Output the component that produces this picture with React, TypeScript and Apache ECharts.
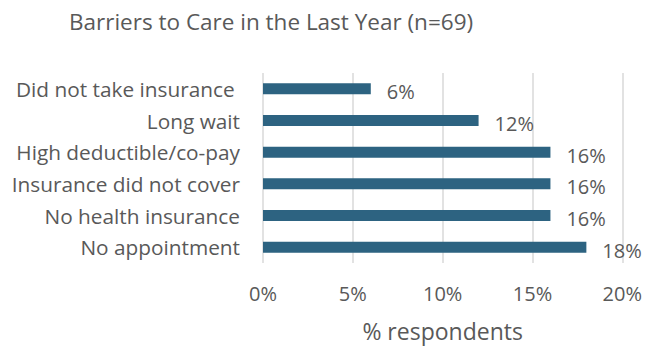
import React, { useEffect, useRef } from "react";
import * as echarts from "echarts";

const categories = [
  "No appointment",
  "No health insurance",
  "Insurance did not cover",
  "High deductible/co-pay",
  "Long wait",
  "Did not take insurance ",
];
const values = [18, 16, 16, 16, 12, 6];
const xTicks = [0, 5, 10, 15, 20];

const FONT = "'Open Sans', 'Noto Sans', sans-serif";
const TEXT = "#595959";

export default function App() {
  const ref = useRef<HTMLDivElement>(null);

  useEffect(() => {
    if (!ref.current) return;
    const chart = echarts.init(ref.current, null, { renderer: "svg" });
    chart.setOption({
      animation: false,
      backgroundColor: "#ffffff",
      title: {
        text: "Barriers to Care in the Last Year (n=69)",
        left: 64,
        top: 5,
        textStyle: { fontFamily: FONT, fontSize: 22.5, fontWeight: "normal", color: TEXT },
      },
      grid: { left: 263, right: 22, top: 73, bottom: 85, containLabel: false },
      xAxis: {
        type: "value",
        min: xTicks[0],
        max: xTicks[xTicks.length - 1],
        interval: 5,
        name: "% respondents",
        nameLocation: "middle",
        nameGap: 56,
        nameTextStyle: { fontFamily: FONT, fontSize: 23, color: TEXT },
        axisLine: { show: false },
        axisTick: { show: false },
        axisLabel: {
          formatter: (v: number) => `${v}%`,
          fontFamily: FONT,
          fontSize: 20,
          color: TEXT,
          margin: 20,
        },
        splitLine: { show: true, lineStyle: { color: "#D9D9D9", width: 1.5 } },
      },
      yAxis: {
        type: "category",
        data: categories,
        axisLine: { show: false },
        axisTick: { show: false },
        axisLabel: { fontFamily: FONT, fontSize: 20.8, color: TEXT, margin: 23 },
      },
      series: [
        {
          type: "bar",
          data: values,
          barWidth: 11,
          itemStyle: { color: "#2D6381" },
          label: {
            show: true,
            position: "right",
            distance: 16,
            offset: [0, 3],
            formatter: (p: any) => `${p.value}%`,
            fontFamily: FONT,
            fontSize: 20,
            color: TEXT,
          },
        },
      ],
    });
    return () => chart.dispose();
  }, []);

  return (
    <div
      ref={ref}
      style={{ position: "fixed", left: 0, top: 0, width: 645, height: 348 }}
    />
  );
}
